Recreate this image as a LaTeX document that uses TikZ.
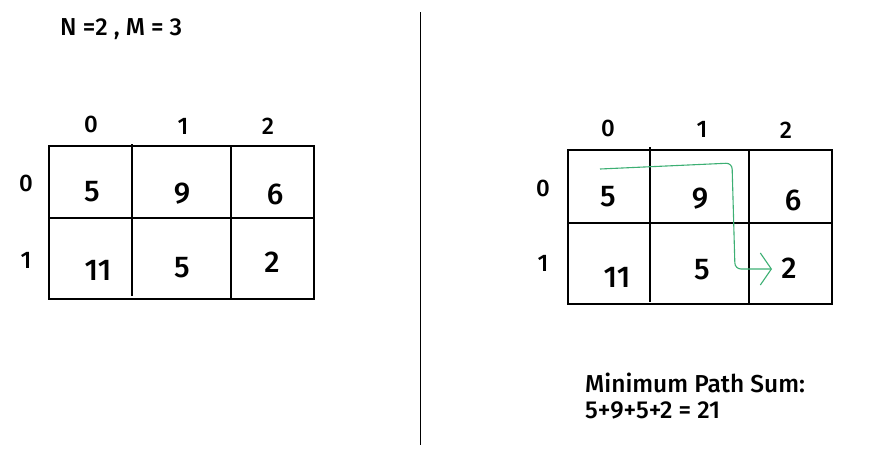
\documentclass[tikz,border=0pt]{standalone}
\usepackage{fontspec}
\setmainfont{Fira Sans}[UprightFont=* Medium]
\usetikzlibrary{arrows.meta}
\definecolor{pathgreen}{RGB}{60,175,115}

\begin{document}
\begin{tikzpicture}[x=1pt,y=-1pt,
  num/.style={inner sep=0pt,font=\fontsize{30}{34}\selectfont},
  idx/.style={inner sep=0pt,font=\fontsize{24}{28}\selectfont},
  txt/.style={inner sep=0pt,anchor=west,font=\fontsize{24.5}{28}\selectfont},
  gridline/.style={line width=1.2pt},
  route/.style={pathgreen,line width=1.1pt,rounded corners=6pt,
    -{Straight Barb[length=11pt,width=32pt,line width=1.1pt]}}]
  \useasboundingbox (0,0) rectangle (894,459);

  % left: the matrix
  \node[txt] (dims) at (60,29) {N =2 , M = 3};
  \draw[gridline] (49,146) rectangle (314,299);
  \draw[gridline] (49,218) -- (314,218);
  \draw[gridline] (132,144) -- (132,296);
  \draw[gridline] (231,146) -- (231,299);
  \node[idx] (lc0) at (91,124) {0};
  \node[idx] (lc1) at (183,126) {1};
  \node[idx] (lc2) at (268,126) {2};
  \node[idx] (lr0) at (26,183) {0};
  \node[idx] (lr1) at (26,260) {1};
  \node[num] (l00) at (92,192) {5};
  \node[num] (l01) at (182,194) {9};
  \node[num] (l02) at (275,194) {6};
  \node[num] (l10) at (98,270) {11};
  \node[num] (l11) at (182,268) {5};
  \node[num] (l12) at (272,262) {2};

  % divider
  \draw[line width=1pt] (420,12) -- (420,445);

  % right: the matrix with the path
  \draw[gridline] (568,150) rectangle (832,304);
  \draw[gridline] (568,223) -- (832,223);
  \draw[gridline] (650,147) -- (650,302);
  \draw[gridline] (749,150) -- (749,304);
  \node[idx] (rc0) at (608,128) {0};
  \node[idx] (rc1) at (702,129) {1};
  \node[idx] (rc2) at (786,130) {2};
  \node[idx] (rr0) at (543,188) {0};
  \node[idx] (rr1) at (543,263) {1};
  \node[num] (r00) at (608,197) {5};
  \node[num] (r01) at (700,199) {9};
  \node[num] (r02) at (793,200) {6};
  \node[num] (r10) at (617,277) {11};
  \node[num] (r11) at (702,270) {5};
  \node[num] (r12) at (789,268) {2};
  \coordinate (start) at (600,169);
  \coordinate (bend1) at (732,163);
  \coordinate (bend2) at (735,269);
  \coordinate (finish) at (772,269);
  \draw[route] (start) -- (bend1) -- (bend2) -- (finish);

  \node[txt] (label) at (585,383) {Minimum Path Sum:};
  \node[txt] (total) at (585,410) {5+9+5+2 = 21};
\end{tikzpicture}
\end{document}
